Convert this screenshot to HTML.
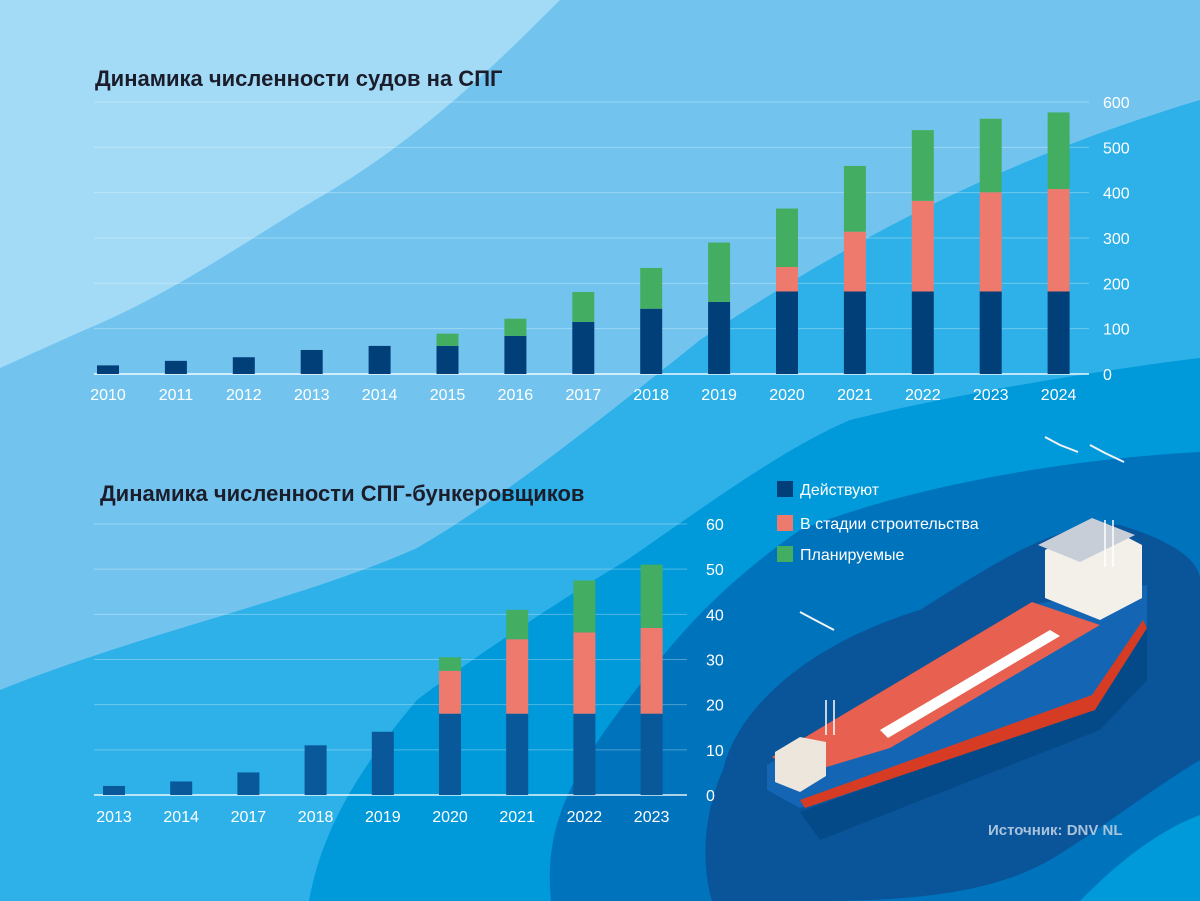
<!DOCTYPE html>
<html><head><meta charset="utf-8"><style>
html,body{margin:0;padding:0}
body{width:1200px;height:901px;overflow:hidden;font-family:"Liberation Sans","DejaVu Sans",sans-serif}
svg{display:block}
</style></head><body>
<svg id="root" width="1200" height="901" viewBox="0 0 1200 901" xmlns="http://www.w3.org/2000/svg">
<g>
<rect width="1200" height="901" fill="#72c4ef"/>
<path d="M0,0 L560,0 C500,60 420,140 315,200 C240,245 170,295 80,332 L0,368 Z" fill="#a3dbf7"/>
<path d="M1200,100 C1000,160 850,240 700,340 C600,420 500,500 417,548 C300,600 150,630 0,690 L0,901 L1200,901 Z" fill="#2eb1e8"/>
<path d="M309,901 C320,840 349,780 417,700 C470,660 560,600 627,560 C700,510 780,450 850,420 C950,395 1100,370 1200,358 L1200,901 Z" fill="#0099d9"/>
<path d="M551,901 C545,840 560,790 620,710 C660,660 700,600 800,530 C900,490 1050,460 1200,452 L1200,901 Z" fill="#0073bd"/>
<path d="M723,770 C740,700 820,640 920,610 C1000,560 1060,520 1120,525 C1170,540 1200,560 1200,580 L1200,760 C1150,790 1100,830 1050,860 C980,900 880,901 800,901 L712,901 C700,860 705,810 723,770 Z" fill="#0a5499"/>
<path d="M1080,901 C1120,860 1160,830 1200,815 L1200,901 Z" fill="#0099d9"/>
</g>

<g>
<path d="M800,812 L1095,705 L1147,625 L1147,680 L1100,730 L820,840 Z" fill="#003f78" opacity="0.5"/>
<polygon points="767,765 1030,605 1147,585 1147,625 1090,700 800,808 767,790" fill="#1565b5"/>
<polygon points="800,800 1092,695 1143,620 1147,628 1095,710 805,808" fill="#d63c24"/>
<polygon points="772,757 1032,602 1100,625 890,748 800,775" fill="#e8604f"/>
<polygon points="880,730 1050,630 1060,636 888,738" fill="#ffffff"/>
<polygon points="1045,550 1100,523 1142,545 1142,598 1100,620 1045,598" fill="#f3f0ea"/>
<polygon points="1038,545 1092,518 1135,535 1080,562" fill="#c8ced8"/>
<polygon points="775,752 800,737 826,742 826,776 800,792 775,782" fill="#ece6dc"/>
<line x1="1105" y1="520" x2="1105" y2="567" stroke="#fff" stroke-width="1.5"/>
<line x1="1113" y1="520" x2="1113" y2="567" stroke="#fff" stroke-width="1.5"/>
<line x1="826" y1="700" x2="826" y2="735" stroke="#fff" stroke-width="1.5"/>
<line x1="834" y1="700" x2="834" y2="735" stroke="#fff" stroke-width="1.5"/>
</g>
<g stroke="#f0f4f8" stroke-width="2" fill="none">
<path d="M1045,437 L1060,445 L1078,452"/>
<path d="M1090,445 L1105,453 L1124,462"/>
<path d="M800,612 L815,620 L834,630"/>
</g>

<text x="95" y="86" font-size="22" font-weight="bold" fill="#1b1d2b">Динамика численности судов на СПГ</text>
<text x="100" y="501" font-size="22" font-weight="bold" fill="#1b1d2b">Динамика численности СПГ-бункеровщиков</text>

<g id="top-chart"></g>
<g id="bottom-chart"></g>

<g>
<g><rect x="777" y="481" width="16" height="16" fill="#013f78"/><text x="800" y="495" font-size="16" fill="#fff">Действуют</text></g>
<g><rect x="777" y="515" width="16" height="16" fill="#ee7a6e"/><text x="800" y="529" font-size="16" fill="#fff">В стадии строительства</text></g>
<g><rect x="777" y="546" width="16" height="16" fill="#43ae62"/><text x="800" y="560" font-size="16" fill="#fff">Планируемые</text></g>
</g>
<text x="988" y="835" font-size="15" font-weight="bold" fill="#a9c3dd">Источник: DNV NL</text>
</svg>
<script>
const topCategories = ["2010","2011","2012","2013","2014","2015","2016","2017","2018","2019","2020","2021","2022","2023","2024"];
const topOperating = [19,29,37,53,62,62,84,115,144,159,182,182,182,182,182];
const topConstruction = [0,0,0,0,0,0,0,0,0,0,54,132,200,219,226];
const topPlanned = [0,0,0,0,0,27,38,66,90,131,129,145,156,162,169];
const topTicks = [0,100,200,300,400,500,600];

const botCategories = ["2013","2014","2017","2018","2019","2020","2021","2022","2023"];
const botOperating = [2,3,5,11,14,18,18,18,18];
const botConstruction = [0,0,0,0,0,9.5,16.5,18,19];
const botPlanned = [0,0,0,0,0,3,6.5,11.5,14];
const botTicks = [0,10,20,30,40,50,60];

const NS = "http://www.w3.org/2000/svg";
function mk(tag, attrs, parent){
  const e = document.createElementNS(NS, tag);
  for (const k in attrs) e.setAttribute(k, attrs[k]);
  parent.appendChild(e);
  return e;
}
function drawChart(g, cfg){
  const yS = v => cfg.y0 - (v / cfg.max) * (cfg.y0 - cfg.yTop);
  const xS = i => cfg.x0 + i * cfg.step;
  cfg.ticks.forEach(t => {
    const ln = mk("line", {x1: cfg.gx1, x2: cfg.gx2, y1: yS(t), y2: yS(t), stroke: "#ffffff", "stroke-opacity": t === 0 ? 0.9 : 0.3, "stroke-width": t === 0 ? 1.5 : 1}, g);
    
    
    const tx = mk("text", {x: cfg.tickX, y: yS(t) + 6, "font-size": 16, fill: "#ffffff"}, g);
    tx.textContent = t;
    
    
  });
  cfg.cats.forEach((c, i) => {
    const x = xS(i) - cfg.bw / 2;
    let base = 0;
    const segs = [[cfg.op[i], cfg.cOp, 'bar-operating'], [cfg.con[i], "#ee7a6e", 'bar-construction'], [cfg.pl[i], "#43ae62", 'bar-planned']];
    segs.forEach(s => {
      if (s[0] > 0) {
        const r = mk("rect", {x: x, y: yS(base + s[0]), width: cfg.bw, height: yS(base) - yS(base + s[0]), fill: s[1]}, g);
        
        
      }
      base += s[0];
    });
    const lb = mk("text", {x: xS(i), y: cfg.labelY, "font-size": 16, fill: "#ffffff", "text-anchor": "middle"}, g);
    lb.textContent = c;
    
    
  });
}
drawChart(document.getElementById("top-chart"), {
  cats: topCategories, op: topOperating, con: topConstruction, pl: topPlanned, ticks: topTicks,
  max: 600, y0: 374, yTop: 102, x0: 108, step: 67.9, bw: 22, gx1: 94, gx2: 1089, tickX: 1103, labelY: 400, cOp: "#013f78"
});
drawChart(document.getElementById("bottom-chart"), {
  cats: botCategories, op: botOperating, con: botConstruction, pl: botPlanned, ticks: botTicks,
  max: 60, y0: 795, yTop: 524, x0: 114, step: 67.2, bw: 22, gx1: 94, gx2: 687, tickX: 706, labelY: 822, cOp: "#08589a"
});
</script>
</body></html>
